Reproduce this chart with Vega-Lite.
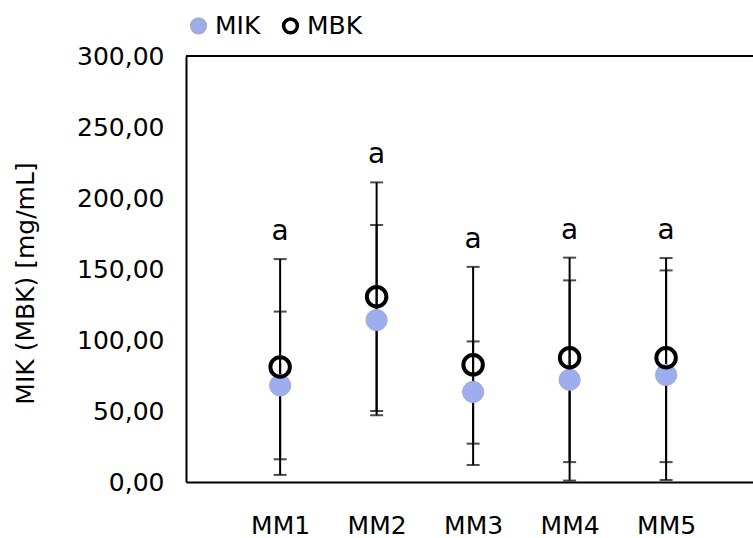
{
  "$schema": "https://vega.github.io/schema/vega-lite/v6.json",
  "width": 567,
  "height": 426,
  "autosize": {"type": "none"},
  "padding": {"left": 186, "top": 56, "right": 0, "bottom": 56},
  "config": {
    "font": "DejaVu Sans",
    "view": {"stroke": null},
    "axis": {
      "grid": false,
      "ticks": false,
      "domainColor": "black",
      "domainWidth": 2,
      "labelColor": "black",
      "labelFontSize": 25,
      "labelFont": "DejaVu Sans",
      "titleFont": "DejaVu Sans",
      "titleFontSize": 25,
      "titleColor": "black",
      "titleFontWeight": "normal"
    },
    "legend": {
      "labelFont": "DejaVu Sans",
      "labelFontSize": 25,
      "labelColor": "black"
    }
  },
  "data": {
    "values": [
      {"cat": "MM1", "series": "MIK", "mean": 68, "lo": 16, "hi": 120, "sig": "a"},
      {"cat": "MM2", "series": "MIK", "mean": 114, "lo": 47, "hi": 181, "sig": "a"},
      {"cat": "MM3", "series": "MIK", "mean": 63.4, "lo": 27, "hi": 99, "sig": "a"},
      {"cat": "MM4", "series": "MIK", "mean": 72, "lo": 1, "hi": 142, "sig": "a"},
      {"cat": "MM5", "series": "MIK", "mean": 75.4, "lo": 1.4, "hi": 149, "sig": "a"},
      {"cat": "MM1", "series": "MBK", "mean": 81, "lo": 5, "hi": 157, "sig": "a"},
      {"cat": "MM2", "series": "MBK", "mean": 130.5, "lo": 50, "hi": 211, "sig": "a"},
      {"cat": "MM3", "series": "MBK", "mean": 82.5, "lo": 12, "hi": 151.5, "sig": "a"},
      {"cat": "MM4", "series": "MBK", "mean": 87.5, "lo": 14, "hi": 158, "sig": "a"},
      {"cat": "MM5", "series": "MBK", "mean": 87.5, "lo": 14, "hi": 157.7, "sig": "a"}
    ]
  },
  "layer": [
    {
      "mark": {"type": "rule", "color": "black", "strokeWidth": 2},
      "encoding": {
        "x": {
          "field": "cat", "type": "nominal",
          "scale": {"type": "point", "padding": 0.938, "align": 0.52},
          "axis": {"title": null, "labelAngle": 0, "labelPadding": 31}
        },
        "y": {
          "field": "lo", "type": "quantitative",
          "scale": {"domain": [0, 300], "nice": false, "zero": true},
          "title": "MIK (MBK) [mg/mL]",
          "axis": {
            "values": [0, 50, 100, 150, 200, 250, 300],
            "labelExpr": "replace(format(datum.value, '.2f'), '.', ',')",
            "labelPadding": 22,
            "titlePadding": 38,
            "titleY": 227
          }
        },
        "y2": {"field": "hi"}
      }
    },
    {
      "mark": {"type": "tick", "color": "black", "size": 13, "thickness": 2},
      "encoding": {
        "x": {"field": "cat", "type": "nominal"},
        "y": {"field": "lo", "type": "quantitative", "title": "MIK (MBK) [mg/mL]"}
      }
    },
    {
      "mark": {"type": "tick", "color": "black", "size": 13, "thickness": 2},
      "encoding": {
        "x": {"field": "cat", "type": "nominal"},
        "y": {"field": "hi", "type": "quantitative", "title": "MIK (MBK) [mg/mL]"}
      }
    },
    {
      "mark": {"type": "rule", "color": "black", "strokeWidth": 2},
      "encoding": {"y": {"datum": 300}}
    },
    {
      "mark": {"type": "point", "shape": "circle", "opacity": 1},
      "encoding": {
        "x": {"field": "cat", "type": "nominal"},
        "y": {"field": "mean", "type": "quantitative", "title": "MIK (MBK) [mg/mL]"},
        "fill": {
          "field": "series", "type": "nominal",
          "scale": {"domain": ["MIK", "MBK"], "range": ["#9dadf0", "transparent"]},
          "legend": {
            "title": null,
            "orient": "none",
            "legendX": 0,
            "legendY": -43,
            "direction": "horizontal",
            "symbolSize": 190,
            "symbolStrokeWidth": 3.5,
            "columnPadding": 15,
            "labelOffset": 4
          }
        },
        "stroke": {
          "field": "series", "type": "nominal",
          "scale": {"domain": ["MIK", "MBK"], "range": ["#a3acd6", "black"]}
        },
        "strokeWidth": {"condition": {"test": "datum.series === 'MBK'", "value": 4}, "value": 1},
        "size": {"condition": {"test": "datum.series === 'MBK'", "value": 380}, "value": 450}
      }
    },
    {
      "transform": [{"filter": "datum.series === 'MBK'"}],
      "mark": {"type": "text", "fontSize": 28, "color": "black", "dy": -27, "baseline": "middle"},
      "encoding": {
        "x": {"field": "cat", "type": "nominal"},
        "y": {"field": "hi", "type": "quantitative", "title": "MIK (MBK) [mg/mL]"},
        "text": {"field": "sig"}
      }
    }
  ]
}
